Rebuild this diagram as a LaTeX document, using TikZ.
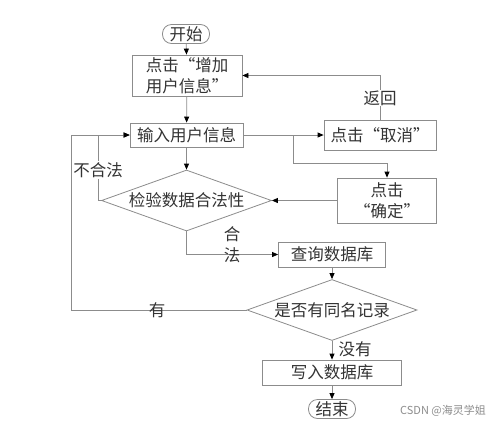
\documentclass[tikz,border=0pt]{standalone}
\usepackage{fontspec}
\newfontfamily\cjk{Noto Sans CJK SC}
\usetikzlibrary{arrows.meta,shapes.geometric}
\definecolor{linec}{HTML}{8C8C8C}
\definecolor{textc}{HTML}{333333}
\begin{document}
\begin{tikzpicture}[x=1pt,y=-1pt,
  base/.style={font=\cjk\fontsize{16.5}{21}\selectfont, text=textc},
  box/.style={base, draw=linec, fill=white, line width=0.8pt, inner sep=0pt, align=center},
  term/.style={box, rounded corners=9pt, minimum width=47pt, minimum height=19pt},
  dia/.style={base, draw=linec, fill=white, line width=0.8pt, shape=diamond, shape aspect=2.8, inner sep=0pt, minimum width=170pt, minimum height=61pt},
  arr/.style={draw=linec, line width=0.8pt, -{Triangle[length=6pt,width=5pt,color=black]}},
  lbl/.style={base, fill=white, inner sep=1pt},
  lbln/.style={base, inner sep=0pt, align=center}]
\useasboundingbox (0,0) rectangle (500,424);
\node[term] (start) at (186,34) {开始};
\node[box, minimum width=110pt, minimum height=41pt] (box1) at (187,75.5) {点击“增加\\用户信息”};
\node[box, minimum width=113pt, minimum height=24pt] (box2) at (186.5,135) {输入用户信息};
\node[box, minimum width=112pt, minimum height=30pt] (cancel) at (380,135) {点击“取消”};
\node[box, minimum width=99pt, minimum height=45pt] (confirm) at (387,200.5) {点击\\“确定”};
\node[dia, shape aspect=2.9] (d1) at (186.5,200.5) {检验数据合法性};
\node[box, minimum width=107pt, minimum height=25pt] (query) at (332,254.5) {查询数据库};
\node[dia, shape aspect=2.9] (d2) at (332,310) {是否有同名记录};
\node[box, minimum width=139pt, minimum height=25pt] (write) at (332,372.5) {写入数据库};
\node[term] (end) at (332,409) {结束};
\coordinate (br) at (293,135);
\coordinate (brd) at (293,163);
\coordinate (ill) at (98,200.5);
\coordinate (outer) at (71,310);

\draw[arr] (start) -- (box1);
\draw[arr] (box1) -- (box2);
\draw[arr] (box2) -- (cancel);
\draw[arr] (br) -- (brd) -| (confirm.north);
\draw[arr] (confirm) -- (d1.east);
\draw[arr] (cancel.north) |- (box1.east);
\node[lbl] (ret) at (380,98) {返回};
\draw[arr] (box2) -- (d1);
\draw[arr] (d1.west) -- (ill) |- (box2.west);
\node[lbl] (bad) at (98,170) {不合法};
\draw[arr] (d1.south) |- (query.west);
\node[lbln] (ok) at (232,245) {合\\法};
\draw[arr] (query) -- (d2);
\draw[arr] (d2.west) -- (outer) |- (box2.west);
\node[lbln] (yes) at (157,310) {有};
\draw[arr] (d2) -- (write);
\node[lbln] (no) at (355,349) {没有};
\draw[arr] (write) -- (end);
\node[font=\cjk\fontsize{11}{13}\selectfont, text=black!45] (wm) at (443,411) {CSDN @海灵学姐};
\end{tikzpicture}
\end{document}
